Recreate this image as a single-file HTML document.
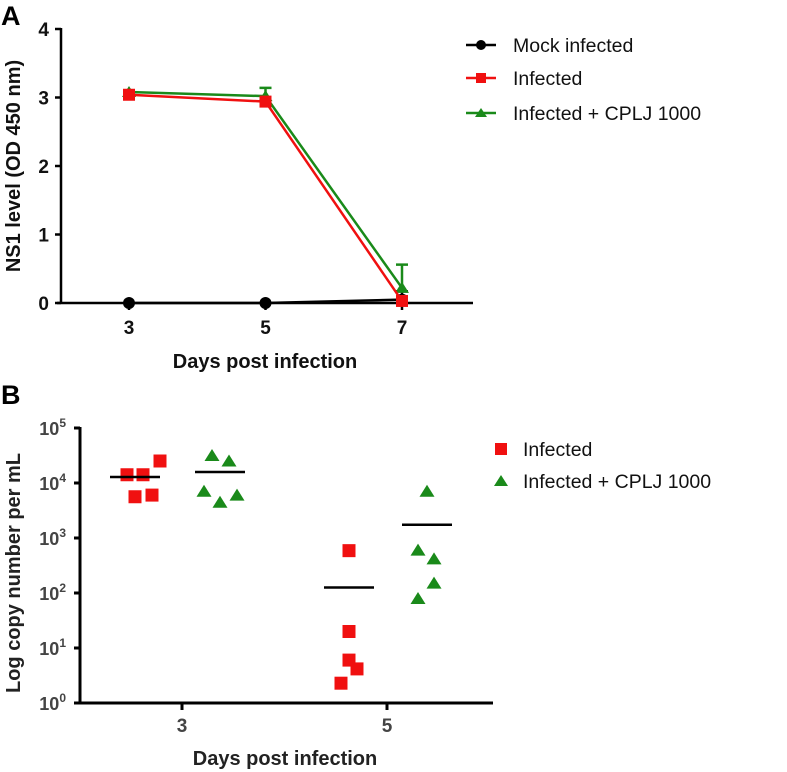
<!DOCTYPE html>
<html><head><meta charset="utf-8"><style>
body{margin:0;background:#fff;}
svg{display:block;font-family:"Liberation Sans",Arial,sans-serif;}
.b{font-weight:bold;}
</style></head><body>
<svg id="s" width="787" height="772" xmlns="http://www.w3.org/2000/svg"></svg>
<script>
// Panel A data
const daysA = [3,5,7];
const mockVals = [0,0,0.05];
const mockErr = [0,0,0.12];
const infVals = [3.04,2.94,0.03];
const infErr = [0,0,0];
const cpljVals = [3.08,3.02,0.22];
const cpljErr = [0,0.12,0.34];
const yTicksA = [0,1,2,3,4];
// Panel B data (log10 values)
const infDay3 = [4.15,4.15,3.75,3.78,4.4];
const cpljDay3 = [4.5,4.4,3.85,3.65,3.78];
const infDay5 = [2.77,1.3,0.78,0.62,0.36];
const cpljDay5 = [3.85,2.78,2.62,2.18,1.9];
const meansB = [[4.11,4.2],[2.1,3.24]];
const yTicksB = [0,1,2,3,4,5];
const daysB = [3,5];

const svg=document.getElementById('s');
const NS='http://www.w3.org/2000/svg';
function mk(t,a,p){const e=document.createElementNS(NS,t);for(const k in a)e.setAttribute(k,a[k]);(p||svg).appendChild(e);return e;}
function txt(x,y,s,a){const e=mk('text',Object.assign({x:x,y:y},a));e.textContent=s;return e;}

// Panel A
const xA=d=>129+(d-3)*68.25, yA=v=>303-v*68.5;
let e;
e=txt(1,25,'A',{'font-size':27,'class':'b'});


e=mk('line',{x1:61,y1:28,x2:61,y2:304,stroke:'#000','stroke-width':2.5});


e=mk('line',{x1:57,y1:303,x2:473,y2:303,stroke:'#000','stroke-width':2.5});


yTicksA.forEach(t=>{
 e=mk('line',{x1:55,y1:yA(t),x2:61,y2:yA(t),stroke:'#000','stroke-width':2.5});
 
 
 e=txt(49,yA(t)+7,String(t),{'font-size':19,'class':'b','text-anchor':'end',fill:'#111'});
 
 
});
daysA.forEach(d=>{
 e=mk('line',{x1:xA(d),y1:303,x2:xA(d),y2:310,stroke:'#000','stroke-width':2.5});
 
 
 e=txt(xA(d),334,String(d),{'font-size':19,'class':'b','text-anchor':'middle',fill:'#111'});
 
 
});
e=txt(265,368,'Days post infection',{'font-size':20,'class':'b','text-anchor':'middle',fill:'#111'});


e=txt(0,0,'NS1 level (OD 450 nm)',{'font-size':20,'class':'b','text-anchor':'middle',fill:'#111',transform:'translate(20,166) rotate(-90)'});



function marker(shape,x,y,c,sz){
 if(shape==='circle') return mk('circle',{cx:x,cy:y,r:sz/2,fill:c});
 if(shape==='square') return mk('rect',{x:x-sz/2,y:y-sz/2,width:sz,height:sz,fill:c});
 return mk('polygon',{points:`${x},${y-sz/2} ${x-sz/2-1},${y+sz/2-1} ${x+sz/2+1},${y+sz/2-1}`,fill:c});
}
function seriesA(vals,errs,c,shape,name){
 const pts=vals.map((v,i)=>xA(daysA[i])+','+yA(v)).join(' ');
 e=mk('polyline',{points:pts,fill:'none',stroke:c,'stroke-width':2.5});
 
 
 vals.forEach((v,i)=>{
  if(errs[i]>0){
   const x=xA(daysA[i]),y1=yA(v),y2=yA(v+errs[i]);
   e=mk('path',{d:`M${x},${y1}V${y2}M${x-6},${y2}H${x+6}`,stroke:c,'stroke-width':2.5,fill:'none'});
   
   
  }
  e=marker(shape,xA(daysA[i]),yA(v),c,12);
  
  
 });
}
seriesA(mockVals,mockErr,'#000','circle','mock');
seriesA(cpljVals,cpljErr,'#1a8a1a','triangle','cplj');
seriesA(infVals,infErr,'#f01010','square','infected');
[['Mock infected','#000','circle',45],['Infected','#f01010','square',78],['Infected + CPLJ 1000','#1a8a1a','triangle',113]].forEach(r=>{
 const g=mk('g',{});
 
 
 mk('line',{x1:466,y1:r[3],x2:496,y2:r[3],stroke:r[1],'stroke-width':2.5},g);
 const m=marker(r[2],481,r[3],r[1],10);g.appendChild(m);
 const t=mk('text',{x:513,y:r[3]+7,'font-size':19.5,fill:'#111'},g);t.textContent=r[0];
});

// Panel B
const xB=d=>182+(d-3)*102.5, yB=v=>703-v*55;
e=txt(1,404,'B',{'font-size':27,'class':'b'});


e=mk('line',{x1:80,y1:427,x2:80,y2:704,stroke:'#000','stroke-width':3});


e=mk('line',{x1:76,y1:703,x2:493,y2:703,stroke:'#000','stroke-width':3});


yTicksB.forEach(t=>{
 e=mk('line',{x1:74,y1:yB(t),x2:80,y2:yB(t),stroke:'#000','stroke-width':3});
 
 
 e=mk('text',{x:66,y:yB(t)+7,'font-size':18,'class':'b','text-anchor':'end',fill:'#444'});
 e.innerHTML='10<tspan dy="-8" font-size="12">'+t+'</tspan>';
 
 
});
daysB.forEach(d=>{
 e=mk('line',{x1:xB(d),y1:703,x2:xB(d),y2:710,stroke:'#000','stroke-width':3});
 
 
 e=txt(xB(d),732,String(d),{'font-size':19,'class':'b','text-anchor':'middle',fill:'#444'});
 
 
});
e=txt(285,765,'Days post infection',{'font-size':20,'class':'b','text-anchor':'middle',fill:'#222'});


e=txt(0,0,'Log copy number per mL',{'font-size':20,'class':'b','text-anchor':'middle',fill:'#222',transform:'translate(20,573) rotate(-90)'});


const groups=[[infDay3,3,-47,'square','#f01010','infected-day3'],[cpljDay3,3,38,'triangle','#1a8a1a','cplj-day3'],[infDay5,5,-38,'square','#f01010','infected-day5'],[cpljDay5,5,40,'triangle','#1a8a1a','cplj-day5']];
const jitters=[[-55,-39,-47,-30,-22],[30,47,22,38,55],[-38,-38,-38,-30,-46],[40,31,47,47,31]];
groups.forEach((g,gi)=>{
 g[0].forEach((v,i)=>{
  e=marker(g[3],xB(g[1])+jitters[gi][i],yB(v),g[4],13);
  
  
 });
 const m=meansB[gi<2?0:1][gi%2];
 const cx=xB(g[1])+g[2];
 e=mk('line',{x1:cx-25,y1:yB(m),x2:cx+25,y2:yB(m),stroke:'#000','stroke-width':2.5});
 
 
});
[['Infected','#f01010','square',449],['Infected + CPLJ 1000','#1a8a1a','triangle',481]].forEach(r=>{
 const g=mk('g',{});
 
 
 g.appendChild(marker(r[2],501,r[3],r[1],12));
 const t=mk('text',{x:523,y:r[3]+7,'font-size':19.5,fill:'#111'},g);t.textContent=r[0];
});
</script>
</body></html>
